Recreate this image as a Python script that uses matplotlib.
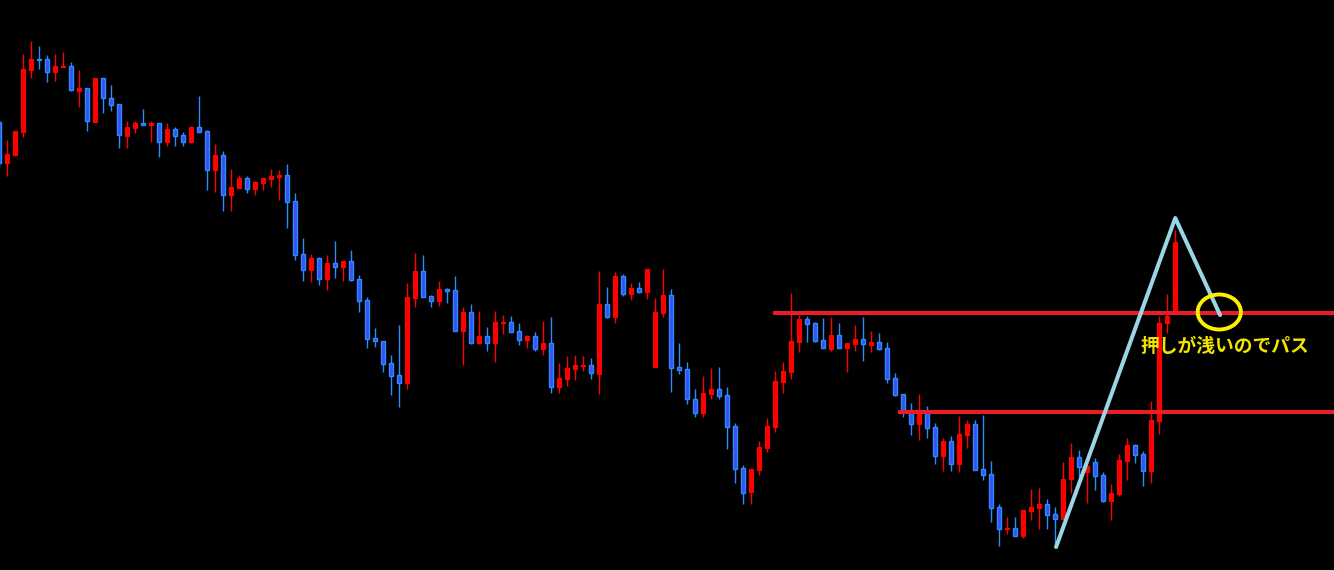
import matplotlib
matplotlib.use("Agg")
import matplotlib.pyplot as plt
from matplotlib.patches import Ellipse
import numpy as np

# candle OHLC values (arbitrary price units, one per bar)
opens = [448, 407, 415, 438, 500, 511, 511, 498, 503, 504, 479, 482, 448, 492, 472, 466, 434, 442, 447, 445,
         447, 428, 441, 435, 428, 443, 439, 400, 415, 375, 382, 392, 381, 387, 391, 393, 395, 369, 316, 300,
         312, 291, 307, 303, 309, 291, 270, 232, 229, 207, 195, 187, 272, 299, 274, 269, 281, 280, 239, 258,
         227, 234, 227, 247, 248, 239, 230, 234, 221, 227, 183, 191, 201, 204, 205, 196, 266, 253, 294, 276,
         282, 278, 203, 257, 275, 203, 201, 171, 157, 176, 181, 175, 144, 102, 78, 100, 122, 143, 188, 198,
         228, 251, 247, 230, 221, 235, 222, 226, 231, 225, 228, 222, 192, 176, 160, 146, 157, 143, 114, 129,
         106, 135, 146, 101, 96, 63, 41, 42, 34, 59, 62, 66, 56, 51, 91, 113, 98, 108, 95, 69,
         76, 109, 125, 116, 99, 149, 247, 257]
highs = [450, 430, 439, 516, 529, 524, 515, 516, 518, 508, 500, 482, 492, 492, 485, 466, 449, 449, 461, 449,
         447, 447, 443, 438, 444, 474, 440, 426, 419, 401, 395, 394, 389, 392, 401, 400, 406, 377, 332, 316,
         313, 315, 329, 309, 320, 295, 273, 242, 229, 215, 245, 287, 317, 315, 275, 289, 282, 294, 263, 266,
         259, 243, 259, 255, 254, 247, 235, 238, 249, 253, 207, 214, 215, 214, 212, 299, 283, 298, 296, 287,
         288, 301, 272, 301, 281, 227, 208, 181, 194, 202, 203, 183, 147, 105, 101, 129, 152, 199, 208, 277,
         255, 254, 248, 252, 253, 247, 227, 245, 253, 239, 237, 228, 197, 176, 167, 176, 164, 147, 132, 134,
         154, 150, 150, 155, 109, 66, 53, 53, 60, 81, 82, 71, 63, 108, 127, 120, 107, 112, 98, 86,
         116, 132, 126, 119, 169, 254, 276, 340]
lows = [402, 394, 414, 433, 492, 501, 488, 489, 503, 479, 463, 439, 448, 457, 459, 422, 422, 437, 445, 428,
        413, 424, 424, 424, 427, 438, 380, 378, 359, 359, 382, 377, 375, 380, 383, 370, 342, 310, 289, 288,
        285, 280, 292, 289, 289, 258, 222, 223, 198, 175, 163, 181, 263, 273, 263, 264, 267, 239, 205, 226,
        226, 219, 208, 236, 238, 225, 222, 219, 215, 177, 177, 184, 190, 199, 191, 176, 252, 247, 274, 270,
        277, 271, 203, 253, 178, 196, 166, 153, 153, 171, 171, 121, 87, 66, 66, 95, 118, 138, 177, 191,
        218, 228, 228, 222, 219, 222, 198, 219, 209, 218, 220, 187, 174, 153, 135, 130, 132, 106, 99, 99,
        98, 122, 100, 90, 48, 24, 36, 34, 32, 50, 41, 41, 22, 51, 77, 93, 67, 80, 68, 50,
        74, 90, 107, 84, 87, 136, 237, 257]
closes = [407, 416, 439, 501, 511, 510, 498, 504, 504, 480, 482, 449, 492, 472, 465, 435, 443, 447, 445, 447,
          428, 441, 434, 428, 443, 438, 400, 415, 375, 383, 392, 381, 388, 392, 394, 395, 368, 315, 300, 312,
          291, 307, 303, 309, 290, 269, 231, 229, 206, 194, 187, 273, 299, 273, 269, 281, 279, 239, 258, 227,
          234, 227, 248, 248, 238, 230, 234, 221, 227, 183, 192, 202, 205, 205, 197, 266, 253, 294, 276, 282,
          278, 301, 258, 275, 202, 200, 171, 157, 177, 181, 174, 143, 101, 77, 101, 123, 144, 189, 199, 229,
          251, 246, 229, 222, 235, 222, 227, 231, 226, 228, 221, 191, 175, 158, 146, 157, 142, 114, 129, 106,
          136, 146, 100, 95, 62, 41, 42, 34, 60, 63, 66, 55, 51, 91, 113, 103, 104, 94, 69, 77,
          110, 125, 115, 99, 150, 247, 254, 328]

# drawn objects: horizontal levels (price, start bar), zigzag and note
levels = [257, 158]
level_starts = [96.7, 112.3]
zigzag_bars = [132.1, 147.0, 152.6]
zigzag_prices = [23, 352, 255]
circle_bar, circle_price = 152.5, 258
note = "押しが浅いのでパス"
note_bar, note_price = 153.2, 223

UP = "#ff0000"
DOWN_FILL = "#3c4ff2"
DOWN_EDGE = "#2a8cff"

plt.rcParams['font.family'] = ['Noto Sans CJK JP', 'DejaVu Sans']

fig = plt.figure(figsize=(13.34, 5.70), dpi=100, facecolor="black")
ax = fig.add_axes([0, 0, 1, 1])
ax.set_facecolor("black")

o = np.array(opens)
h = np.array(highs)
l = np.array(lows)
c = np.array(closes)
x = np.arange(len(o))
up = c >= o

wick_col = [UP if u else DOWN_EDGE for u in up]
ax.vlines(x, l, h, colors=wick_col, linewidth=1.0, zorder=2)

ax.bar(x[up], c[up] - o[up], bottom=o[up], width=0.55,
       color=UP, edgecolor=UP, linewidth=0.8, zorder=3)
ax.bar(x[~up], c[~up] - o[~up], bottom=o[~up], width=0.55,
       color=DOWN_FILL, edgecolor=DOWN_EDGE, linewidth=1.0, zorder=3)

# horizontal levels
for lev, start in zip(levels, level_starts):
    ax.hlines(lev, start, 200, colors="#ea1c26", linewidth=2.9, zorder=4)

# zigzag
ax.plot(zigzag_bars, zigzag_prices, color="#9ad6e6", linewidth=2.9,
        solid_capstyle="round", zorder=5)

# circle + note
ax.add_patch(Ellipse((circle_bar, circle_price), width=5.4, height=35,
                     fill=False, edgecolor="#fff000", linewidth=2.8, zorder=6))
ax.text(note_bar, note_price, note, color="#f2e400", fontsize=13.5,
        fontweight="bold", ha="center", va="center", zorder=7)

ax.set_xlim(0.0875, 166.84)
ax.set_ylim(0, 570)
ax.axis("off")

fig.savefig("out.png", dpi=100, facecolor="black")
